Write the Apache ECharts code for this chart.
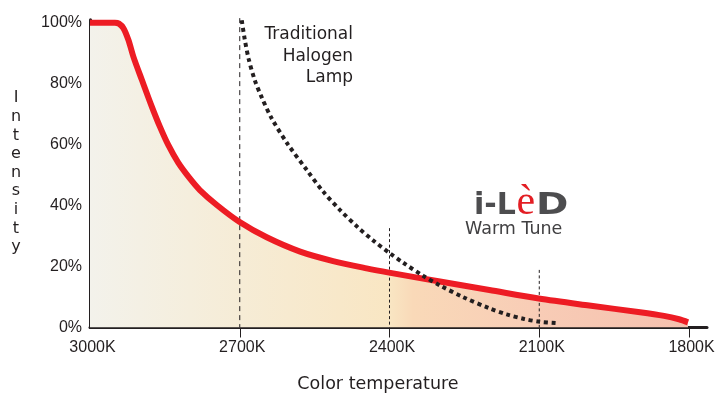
<!DOCTYPE html>
<html>
<head>
<meta charset="utf-8">
<script src="https://cdn.jsdelivr.net/npm/echarts@6/dist/echarts.min.js"></script>
<style>
html,body{margin:0;padding:0;background:#fff;}
#chart{width:717px;height:394px;}
</style>
</head>
<body>
<div id="chart"></div>
<script>
// ---- data (color temperature in K, intensity in %) ----
const ledK = [3000, 2950, 2942, 2933, 2923, 2913, 2896, 2876, 2860, 2843, 2823, 2800, 2780, 2746, 2701, 2646, 2579, 2513, 2446, 2401, 2299, 2200, 2101, 2000, 1898, 1850, 1820, 1802];
const ledIntensity = [100, 100, 99.7, 98.2, 94.3, 88.8, 81.2, 72.4, 65.9, 59.8, 54.0, 48.9, 45.1, 40.2, 34.7, 29.6, 24.9, 21.8, 19.4, 18.0, 15.1, 12.3, 9.5, 7.2, 5.0, 3.8, 2.7, 1.7];
const halogenK = [2696, 2690, 2682, 2670, 2656, 2636, 2604, 2565, 2533, 2499, 2463, 2433, 2399, 2373, 2333, 2299, 2253, 2200, 2165, 2130, 2099, 2063];
const halogenIntensity = [100.8, 94.5, 88.0, 81.2, 75.5, 68.6, 60.2, 51.5, 44.6, 38.5, 32.8, 28.6, 24.3, 21.3, 17.0, 13.8, 10.0, 6.3, 4.3, 2.8, 1.9, 1.4];
const refLineK = [2700, 2400, 2100];
const refLineTop = [101.5, 32.6, 18.9];
const xTickLabels = [3000, 2700, 2400, 2100, 1800];
const xTickMarks = [2700, 2400, 2100, 1800];
const yTickLabels = [0, 20, 40, 60, 80, 100];

const ink = '#231f20';
const red = '#ed1c24';
const sans = '"Liberation Sans", Arial, Helvetica, sans-serif';
const dejavu = '"DejaVu Sans", sans-serif';

const ledData = ledK.map((k, i) => [k, ledIntensity[i]]);
const halogenData = halogenK.map((k, i) => [k, halogenIntensity[i]]);

const refSeries = refLineK.map((k, i) => ({
  type: 'line',
  data: [[k, refLineTop[i]], [k, 0]],
  symbol: 'none',
  silent: true,
  clip: false,
  lineStyle: { color: ink, width: 1, type: i === 0 ? [5, 4] : [3, 2.5] },
  z: 3
}));

const chart = echarts.init(document.getElementById('chart'), null, { renderer: 'canvas' });
chart.setOption({
  animation: false,
  backgroundColor: '#ffffff',
  grid: { left: 90, right: 10, top: 19.65, bottom: 66.5, containLabel: false, outerBoundsMode: 'none' },
  xAxis: {
    type: 'value',
    min: 1764,
    max: 3000,
    inverse: true,
    axisLine: { show: true, lineStyle: { color: ink, width: 3 } },
    axisTick: { show: true, customValues: xTickMarks, length: 10, lineStyle: { color: ink, width: 1 } },
    axisLabel: {
      customValues: xTickLabels,
      formatter: v => v + 'K',
      margin: 12,
      fontSize: 16,
      color: ink,
      fontFamily: sans,
      padding: [0, 0, 0, 5]
    },
    splitLine: { show: false }
  },
  yAxis: {
    type: 'value',
    min: 0,
    max: 101,
    axisLine: { show: true, lineStyle: { color: ink, width: 3 } },
    axisTick: { show: false },
    axisLabel: {
      customValues: yTickLabels,
      formatter: v => v + '%',
      margin: 8,
      fontSize: 16,
      color: ink,
      fontFamily: sans
    },
    splitLine: { show: false }
  },
  series: [
    {
      name: 'fill',
      type: 'line',
      data: ledData,
      symbol: 'none',
      smooth: 0.3,
      silent: true,
      lineStyle: { width: 0 },
      areaStyle: {
        opacity: 1,
        color: new echarts.graphic.LinearGradient(0, 0, 1, 0, [
          { offset: 0, color: '#f3f2eb' },
          { offset: 0.25, color: '#f6ecd6' },
          { offset: 0.5, color: '#f9e6c3' },
          { offset: 0.54, color: '#f9d9b8' },
          { offset: 0.75, color: '#f8ccb6' },
          { offset: 1, color: '#f5c0ae' }
        ])
      },
      z: 2
    },
    ...refSeries,
    {
      name: 'i-LèD Warm Tune',
      type: 'line',
      data: ledData,
      symbol: 'none',
      smooth: 0.3,
      lineStyle: { color: red, width: 6, cap: 'butt', join: 'round' },
      z: 4
    },
    {
      name: 'Traditional Halogen Lamp',
      type: 'line',
      data: halogenData,
      symbol: 'none',
      smooth: 0.3,
      lineStyle: { color: ink, width: 4, type: [4, 3.7], cap: 'butt' },
      z: 5
    }
  ],
  graphic: [
    {
      type: 'text', x: 353, y: 24,
      style: {
        text: 'Traditional\nHalogen\nLamp',
        font: '17px ' + dejavu,
        fill: ink,
        align: 'right',
        verticalAlign: 'top',
        lineHeight: 21.5
      }
    },
    {
      type: 'text', x: 474, y: 206.3,
      style: { text: 'i-L', font: 'bold 30px ' + dejavu, fill: '#4d4d4f', align: 'left', verticalAlign: 'middle' }
    },
    {
      type: 'text', x: 516.5, y: 202.5,
      style: { text: 'è', font: '42px "Liberation Serif", "Times New Roman", serif', fill: '#e31e24', align: 'left', verticalAlign: 'middle' }
    },
    {
      type: 'text', x: 536, y: 206.3, scaleX: 1.3,
      style: { text: 'D', font: 'bold 30px ' + dejavu, fill: '#4d4d4f', align: 'left', verticalAlign: 'middle' }
    },
    {
      type: 'text', x: 465, y: 229,
      style: { text: 'Warm Tune', font: '17.5px ' + dejavu, fill: '#414042', align: 'left', verticalAlign: 'middle' }
    },
    {
      type: 'text', x: 16, y: 89,
      style: {
        text: 'I\nn\nt\ne\nn\ns\ni\nt\ny',
        font: '16px ' + dejavu,
        fill: ink,
        align: 'center',
        verticalAlign: 'top',
        lineHeight: 18.6
      }
    },
    {
      type: 'text', x: 378, y: 384,
      style: { text: 'Color temperature', font: '17.5px ' + dejavu, fill: ink, align: 'center', verticalAlign: 'middle' }
    }
  ]
});
</script>
</body>
</html>
